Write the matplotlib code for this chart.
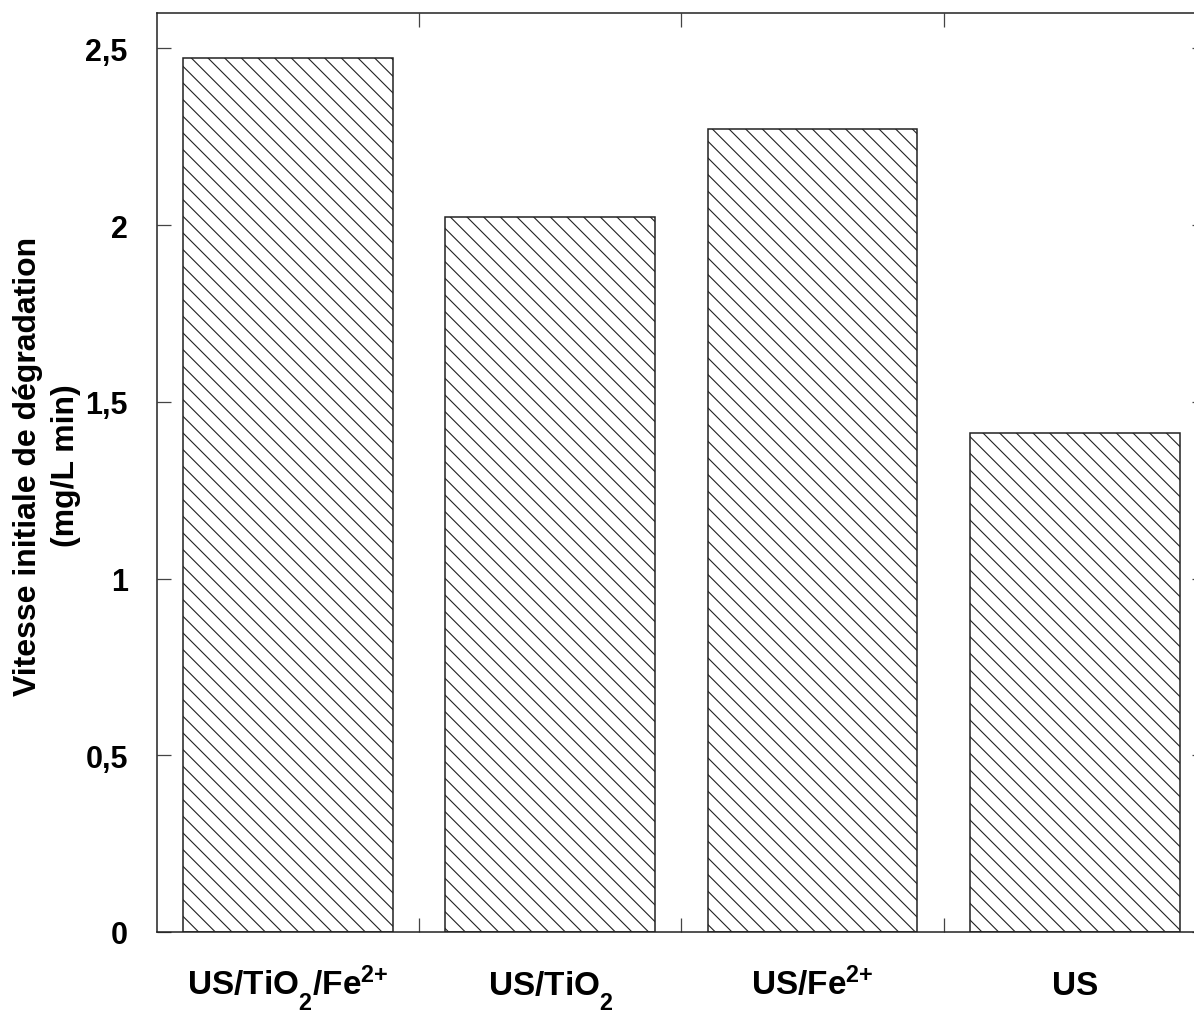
import matplotlib
matplotlib.use("Agg")
import matplotlib.pyplot as plt
import matplotlib._mathtext as mathtext_internal

# Initial degradation rates for each process
procedes = [r'US/TiO$_2$/Fe$^{2{+}}$', r'US/TiO$_2$', r'US/Fe$^{2{+}}$', 'US']
vitesses = [2.472, 2.024, 2.273, 1.413]
yticks = [0, 0.5, 1, 1.5, 2, 2.5]
ytick_labels = ['0', '0,5', '1', '1,5', '2', '2,5']

plt.rcParams['font.family'] = 'Liberation Sans'
plt.rcParams['font.weight'] = 'bold'
plt.rcParams['mathtext.fontset'] = 'custom'
plt.rcParams['mathtext.rm'] = 'Liberation Sans:bold'
plt.rcParams['mathtext.it'] = 'Liberation Sans:bold'
plt.rcParams['mathtext.bf'] = 'Liberation Sans:bold'
plt.rcParams['mathtext.default'] = 'rm'
plt.rcParams['hatch.linewidth'] = 0.8
plt.rcParams['hatch.color'] = 'black'

# chemical subscripts sit well below the baseline
mathtext_internal.FontConstantsBase.sub1 = 0.88

fig = plt.figure(figsize=(11.94, 10.12), dpi=100)
ax = fig.add_axes([0.1315, 0.0781, 1.010 - 0.1315, 0.9862 - 0.0781])

x = range(len(procedes))
ax.bar(x, vitesses, width=0.8, color='white', edgecolor='#222222',
       linewidth=1.1, hatch='\\\\')

ax.set_xlim(-0.5, 3.5)
ax.set_ylim(0, 2.6)

# separators between categories as major ticks, names as minor ticks
ax.set_xticks([0.5, 1.5, 2.5])
ax.set_xticklabels([])
ax.set_xticks(list(x), procedes, minor=True)
ax.tick_params(axis='x', which='minor', length=0, pad=45, labelsize=24)
for lbl in ax.get_xticklabels(minor=True):
    lbl.set_verticalalignment('baseline')

ax.set_yticks(yticks, ytick_labels)
ax.tick_params(axis='y', which='major', labelsize=22, pad=21)
ax.tick_params(which='major', direction='in', length=10, width=0.9,
               color='#444444', top=True, right=True)

for sp in ax.spines.values():
    sp.set_linewidth(1.1)
    sp.set_color('#222222')

ax.set_ylabel('Vitesse initiale de dégradation\n(mg/L min)', fontsize=23,
              fontweight='bold', linespacing=1.35)
ax.yaxis.set_label_coords(-0.072, 0.508)

fig.savefig('out.png', dpi=100)
